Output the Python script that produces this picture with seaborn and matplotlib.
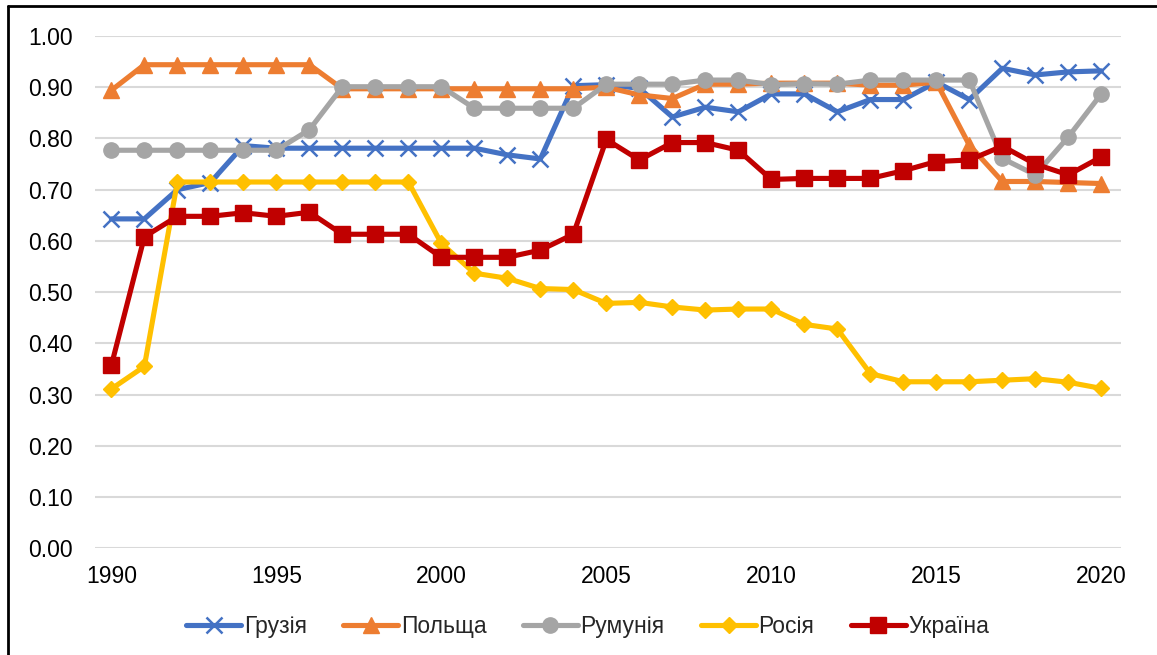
import matplotlib
matplotlib.use('Agg')
import matplotlib.pyplot as plt
import matplotlib.lines as mlines
import numpy as np
import pandas as pd
import seaborn as sns

# дані з графіка
years = list(range(1990, 2021))
georgia = [0.643, 0.643, 0.700, 0.714, 0.786, 0.781, 0.781, 0.781, 0.781, 0.781,
           0.781, 0.781, 0.768, 0.760, 0.903, 0.905, 0.898, 0.842, 0.861, 0.852,
           0.887, 0.887, 0.852, 0.876, 0.876, 0.910, 0.876, 0.937, 0.924, 0.930,
           0.932]
poland = [0.894, 0.944, 0.944, 0.944, 0.944, 0.944, 0.944, 0.897, 0.897, 0.897,
          0.897, 0.897, 0.897, 0.897, 0.897, 0.900, 0.885, 0.878, 0.906, 0.906,
          0.908, 0.908, 0.908, 0.904, 0.904, 0.910, 0.787, 0.716, 0.716, 0.714,
          0.712]
romania = [0.777, 0.777, 0.777, 0.777, 0.777, 0.777, 0.817, 0.901, 0.901, 0.901,
           0.901, 0.859, 0.859, 0.859, 0.859, 0.906, 0.906, 0.906, 0.914, 0.914,
           0.905, 0.907, 0.906, 0.914, 0.914, 0.914, 0.914, 0.761, 0.729, 0.803,
           0.887]
russia = [0.311, 0.355, 0.715, 0.715, 0.715, 0.715, 0.715, 0.715, 0.715, 0.715,
          0.595, 0.537, 0.527, 0.507, 0.505, 0.478, 0.480, 0.471, 0.465, 0.467,
          0.467, 0.437, 0.428, 0.341, 0.325, 0.325, 0.325, 0.328, 0.331, 0.324,
          0.312]
ukraine = [0.357, 0.608, 0.648, 0.648, 0.655, 0.648, 0.656, 0.613, 0.613, 0.613,
           0.568, 0.568, 0.568, 0.582, 0.613, 0.798, 0.758, 0.792, 0.792, 0.777,
           0.720, 0.722, 0.722, 0.722, 0.737, 0.755, 0.758, 0.785, 0.750, 0.729,
           0.764]

countries = ['Грузія', 'Польща', 'Румунія', 'Росія', 'Україна']
series = [georgia, poland, romania, russia, ukraine]
colors = ['#4472C4', '#ED7D31', '#A5A5A5', '#FFC000', '#C00000']
markers = ['x', '^', 'o', 'D', 's']
msizes = [12, 11, 11, 8, 11]

df = pd.concat([pd.DataFrame({'year': years, 'value': s, 'country': c})
                for c, s in zip(countries, series)], ignore_index=True)

sns.set_theme(style='white')
plt.rcParams['font.family'] = ['Liberation Sans', 'DejaVu Sans']

fig = plt.figure(figsize=(11.57, 6.55), dpi=100)
ax = fig.add_axes([0.082, 0.163, 0.887, 0.782])

sns.lineplot(data=df, x='year', y='value', hue='country', hue_order=countries,
             palette=dict(zip(countries, colors)), linewidth=3.7,
             legend=False, ax=ax)

# маркери як у Excel (x та заповнені фігури разом seaborn не дозволяє)
for line, col, m, ms in zip(ax.get_lines(), colors, markers, msizes):
    line.set_marker(m)
    line.set_markeredgecolor(col)
    line.set_markerfacecolor(col)
    line.set_markersize(ms)
    line.set_markeredgewidth(1.8 if m == 'x' else 1)

ax.set_xlim(1989.5, 2020.6)
ax.set_ylim(0, 1.0)
ax.set_yticks(np.arange(0, 1.01, 0.1))
ax.set_yticklabels([f'{v:.2f}' for v in np.arange(0, 1.01, 0.1)])
ax.set_xticks([1990, 1995, 2000, 2005, 2010, 2015, 2020])
ax.tick_params(axis='both', labelsize=16.5, colors='black', length=0)
ax.tick_params(axis='y', pad=16)
ax.tick_params(axis='x', pad=12)
ax.yaxis.grid(True, color='#D9D9D9', linewidth=1.5)
ax.set_axisbelow(True)
for sp in ax.spines.values():
    sp.set_visible(False)
ax.set_xlabel('')
ax.set_ylabel('')

handles = [mlines.Line2D([], [], color=c, marker=m, markersize=ms, linewidth=3.7,
                         markeredgecolor=c, markeredgewidth=1.8 if m == 'x' else 1)
           for c, m, ms in zip(colors, markers, msizes)]
fig.legend(handles, countries, loc='center', bbox_to_anchor=(0.508, 0.044),
           ncol=5, frameon=False, fontsize=16.5, handlelength=2.4,
           handletextpad=0.1, columnspacing=1.6, numpoints=1)

# рамка
fig.add_artist(mlines.Line2D([8 / 1157, 1], [1 - 6 / 655, 1 - 6 / 655],
                             color='black', linewidth=2, transform=fig.transFigure))
fig.add_artist(mlines.Line2D([8 / 1157, 8 / 1157], [0, 1 - 6 / 655],
                             color='black', linewidth=2, transform=fig.transFigure))

fig.savefig('out.png', dpi=100)
